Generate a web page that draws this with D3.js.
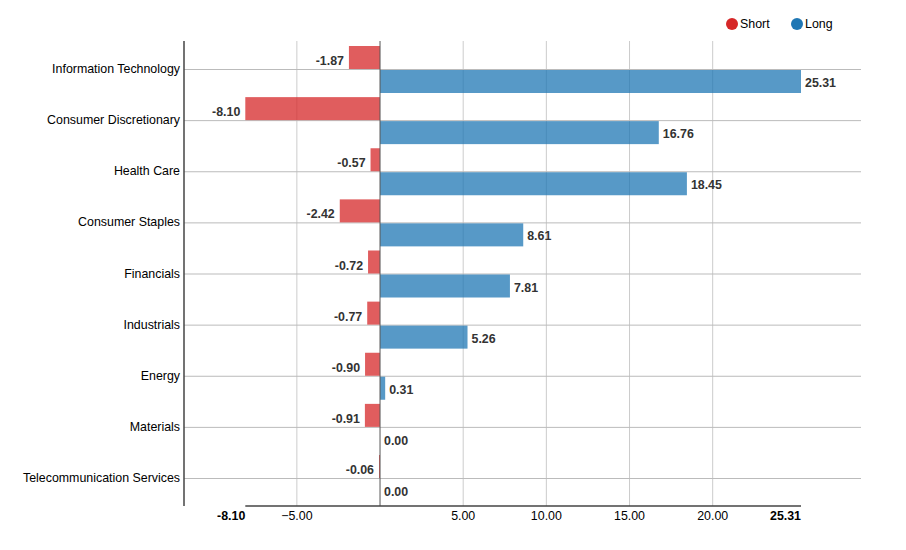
<!DOCTYPE html>
<html>
<head>
<meta charset="utf-8">
<script src="https://d3js.org/d3.v7.min.js"></script>
<style>
  body { margin: 0; background: #fff; }
  svg text { font-family: "Liberation Sans", Arial, sans-serif; font-size: 12.4px; }
</style>
</head>
<body>
<div class="chart"></div>
<script>
// data
var categories = ["Information Technology", "Consumer Discretionary", "Health Care",
    "Consumer Staples", "Financials", "Industrials", "Energy", "Materials",
    "Telecommunication Services"];
var shortValues = [-1.87, -8.10, -0.57, -2.42, -0.72, -0.77, -0.90, -0.91, -0.06];
var longValues = [25.31, 16.76, 18.45, 8.61, 7.81, 5.26, 0.31, 0.00, 0.00];
var tickValues = [-5, 5, 10, 15, 20];
var seriesNames = ["Short", "Long"];
var seriesColors = ["#d62728", "#1f77b4"];

var w = 906, h = 550;
var plotLeft = 184, plotRight = 861, plotTop = 41, plotBottom = 506;

var svg = d3.select(".chart").append("svg")
    .attr("width", w)
    .attr("height", h);

var minV = d3.min(shortValues), maxV = d3.max(longValues);

// x scale: zero at 380, 25.31 at ~801
var x = d3.scaleLinear()
    .domain([minV, maxV])
    .range([245.3, 801]);

var y = d3.scalePoint()
    .domain(categories)
    .range([69, 478]);

var barH = 23;

// vertical grid lines
svg.selectAll("line.vgrid")
    .data(tickValues)
    .enter().append("line")
    .attr("class", "vgrid")
    .attr("x1", function (d) { return x(d); })
    .attr("x2", function (d) { return x(d); })
    .attr("y1", plotTop).attr("y2", plotBottom)
    .attr("stroke", "#ccc").attr("stroke-width", 1);

// horizontal grid lines
svg.selectAll("line.hgrid")
    .data(categories)
    .enter().append("line")
    .attr("class", "hgrid")
    .attr("x1", plotLeft).attr("x2", plotRight)
    .attr("y1", function (d) { return y(d) + 0.5; })
    .attr("y2", function (d) { return y(d) + 0.5; })
    .attr("stroke", "#bbb").attr("stroke-width", 1);

// short bars
svg.selectAll("rect.short")
    .data(shortValues)
    .enter().append("rect")
    .attr("class", "short")
    .attr("x", function (d) { return x(d); })
    .attr("y", function (d, i) { return y(categories[i]) - barH; })
    .attr("width", function (d) { return x(0) - x(d); })
    .attr("height", barH)
    .attr("fill", seriesColors[0])
    .attr("fill-opacity", 0.75);

// long bars
svg.selectAll("rect.long")
    .data(longValues)
    .enter().append("rect")
    .attr("class", "long")
    .attr("x", x(0))
    .attr("y", function (d, i) { return y(categories[i]) + 1; })
    .attr("width", function (d) { return x(d) - x(0); })
    .attr("height", barH)
    .attr("fill", seriesColors[1])
    .attr("fill-opacity", 0.75);

// value labels
svg.selectAll("text.shortLbl")
    .data(shortValues)
    .enter().append("text")
    .attr("x", function (d) { return x(d) - 5; })
    .attr("y", function (d, i) { return y(categories[i]) - barH / 2 + 7.5; })
    .attr("text-anchor", "end")
    .attr("font-weight", "bold")
    .attr("fill", "#333")
    .text(function (d) { return d.toFixed(2); });

svg.selectAll("text.longLbl")
    .data(longValues)
    .enter().append("text")
    .attr("x", function (d) { return x(d) + 4; })
    .attr("y", function (d, i) { return y(categories[i]) + barH / 2 + 6.5; })
    .attr("font-weight", "bold")
    .attr("fill", "#333")
    .text(function (d) { return d.toFixed(2); });

// zero line
svg.append("line")
    .attr("x1", x(0)).attr("x2", x(0))
    .attr("y1", plotTop).attr("y2", plotBottom)
    .attr("stroke", "#555").attr("stroke-width", 1);

// left axis line
svg.append("line")
    .attr("x1", plotLeft).attr("x2", plotLeft)
    .attr("y1", plotTop).attr("y2", plotBottom)
    .attr("stroke", "#444").attr("stroke-width", 1.5);

// category labels
svg.selectAll("text.cat")
    .data(categories)
    .enter().append("text")
    .attr("x", plotLeft - 4)
    .attr("y", function (d) { return y(d) + 4; })
    .attr("text-anchor", "end")
    .attr("fill", "#000")
    .text(function (d) { return d; });

// bottom axis
svg.append("line")
    .attr("x1", x(minV)).attr("x2", x(maxV))
    .attr("y1", plotBottom).attr("y2", plotBottom)
    .attr("stroke", "#444").attr("stroke-width", 1.5);

svg.selectAll("text.tick")
    .data(tickValues)
    .enter().append("text")
    .attr("x", function (d) { return x(d); })
    .attr("y", plotBottom + 14)
    .attr("text-anchor", "middle")
    .attr("fill", "#000")
    .text(function (d) { return d3.format(".2f")(d); });

svg.selectAll("text.extent")
    .data([minV, maxV])
    .enter().append("text")
    .attr("x", function (d) { return x(d); })
    .attr("y", plotBottom + 14)
    .attr("text-anchor", "end")
    .attr("font-weight", "bold")
    .attr("fill", "#000")
    .text(function (d) { return d.toFixed(2); });

// legend
var legend = svg.selectAll("g.legend")
    .data(seriesNames)
    .enter().append("g")
    .attr("class", "legend")
    .attr("transform", function (d, i) { return "translate(" + (732 + i * 65) + ",24)"; });

legend.append("circle")
    .attr("r", 6)
    .attr("fill", function (d, i) { return seriesColors[i]; });

legend.append("text")
    .attr("x", 8)
    .attr("y", 4)
    .attr("fill", "#000")
    .text(function (d) { return d; });
</script>
</body>
</html>
